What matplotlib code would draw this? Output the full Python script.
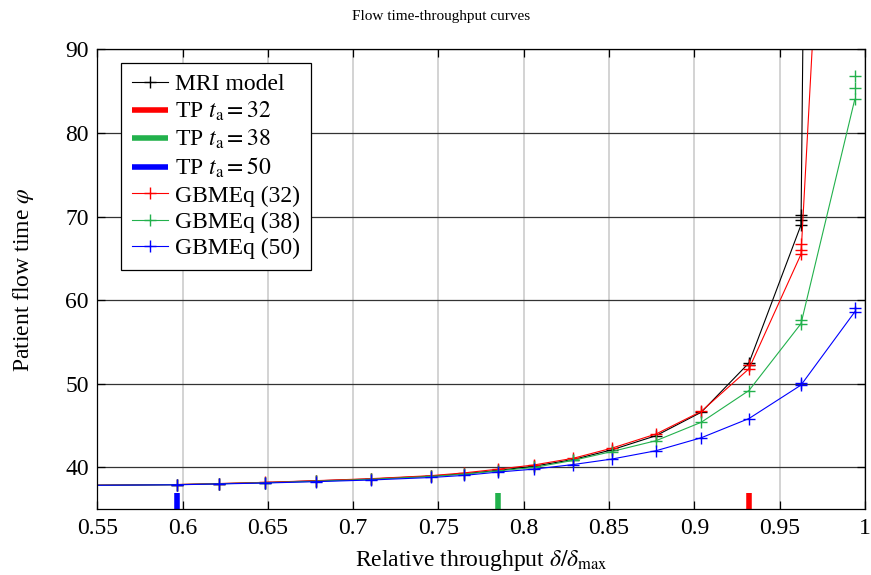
import matplotlib
matplotlib.use("Agg")
import matplotlib.pyplot as plt

# relative throughput (shared grid of the curves)
rel_tp = [0.50, 0.5967, 0.6216, 0.6483, 0.6780, 0.7104, 0.7456, 0.7650, 0.7850,
          0.8060, 0.8290, 0.8515, 0.8775, 0.9040, 0.9320, 0.9625, 0.9940]

# patient flow time per curve
mri_model = [37.80, 37.95, 38.06, 38.20, 38.40, 38.62, 38.97, 39.25, 39.65,
             40.15, 40.95, 42.10, 43.80, 46.60, 52.50, 69.00, 700.0]
gbmeq_32 = [37.81, 37.96, 38.08, 38.22, 38.42, 38.66, 39.02, 39.35, 39.80,
            40.30, 41.10, 42.30, 44.00, 46.70, 51.80, 65.50, 184.0]
gbmeq_38 = [37.80, 37.94, 38.05, 38.17, 38.35, 38.58, 38.92, 39.20, 39.60,
            40.00, 40.85, 41.90, 43.20, 45.40, 49.20, 57.20, 84.00]
gbmeq_50 = [37.80, 37.93, 38.03, 38.14, 38.30, 38.50, 38.80, 39.05, 39.45,
            39.80, 40.35, 41.00, 42.00, 43.55, 45.85, 49.85, 58.60]

# repeated runs near saturation (extra markers)
mri_extra_x = [0.9320, 0.9625, 0.9625]
mri_extra_y = [52.2, 69.6, 70.2]
g32_extra_x = [0.9320, 0.9625, 0.9625]
g32_extra_y = [52.2, 66.0, 66.7]
g38_extra_x = [0.9625, 0.9940, 0.9940]
g38_extra_y = [57.6, 85.4, 86.85]
g50_extra_x = [0.9625, 0.9940]
g50_extra_y = [50.05, 59.1]

# throughput limits (TP) per arrival time
tp_labels = ["32", "38", "50"]
tp_x = [0.932, 0.785, 0.5967]

red = "#ff0000"
green = "#22b14c"
blue = "#0000ff"

plt.rcParams["font.family"] = "Liberation Serif"
plt.rcParams["mathtext.fontset"] = "stix"

fs = 17

fig = plt.figure(figsize=(8.71, 5.75), dpi=100)
ax = fig.add_axes([0.1117, 0.1143, 0.8814, 0.80])

mk = dict(marker="+", markersize=8, markeredgewidth=1.0, linewidth=0.8)

ax.plot(rel_tp, mri_model, color="black", label="MRI model", **mk)
ax.plot(mri_extra_x, mri_extra_y, color="black", linestyle="none", **mk)

for x, lab, c in zip(tp_x, tp_labels, [red, green, blue]):
    ax.plot([x, x], [35, 37], color=c, linewidth=4, solid_capstyle="butt",
            label=r"TP $t_\mathrm{a} = " + lab + "$")

ax.plot(rel_tp, gbmeq_32, color=red, label="GBMEq (32)", **mk)
ax.plot(g32_extra_x, g32_extra_y, color=red, linestyle="none", **mk)
ax.plot(rel_tp, gbmeq_38, color=green, label="GBMEq (38)", **mk)
ax.plot(g38_extra_x, g38_extra_y, color=green, linestyle="none", **mk)
ax.plot(rel_tp, gbmeq_50, color=blue, label="GBMEq (50)", **mk)
ax.plot(g50_extra_x, g50_extra_y, color=blue, linestyle="none", **mk)

ax.set_xlim(0.55, 1.0)
ax.set_ylim(35, 90)
xt = [0.55, 0.6, 0.65, 0.7, 0.75, 0.8, 0.85, 0.9, 0.95, 1.0]
ax.set_xticks(xt)
ax.set_xticklabels(["%g" % v for v in xt])
ax.set_yticks([40, 50, 60, 70, 80, 90])

ax.grid(axis="x", color="#cccccc", linewidth=1.2)
ax.grid(axis="y", color="#333333", linewidth=0.9)
ax.set_axisbelow(True)
ax.tick_params(direction="in", length=5.5, width=0.9, top=True, right=True,
               labelsize=fs, pad=6)
for s in ax.spines.values():
    s.set_linewidth(0.9)

# title sits centred on the whole picture, not on the axes
fig.text(0.506, 0.972, "Flow time-throughput curves", fontsize=11,
         ha="center", va="center")
ax.set_xlabel(r"Relative throughput $\delta/\delta_{\mathrm{max}}$", fontsize=fs,
              labelpad=7)
ax.set_ylabel(r"Patient flow time $\varphi$", fontsize=fs, labelpad=21)

leg = ax.legend(loc="upper left", bbox_to_anchor=(0.031, 0.97), fontsize=fs,
                fancybox=False, framealpha=1, edgecolor="black",
                handlelength=1.55, handletextpad=0.3, labelspacing=0.2,
                borderpad=0.45, borderaxespad=0)
leg.get_frame().set_linewidth(0.9)

fig.savefig("out.png", dpi=100)
